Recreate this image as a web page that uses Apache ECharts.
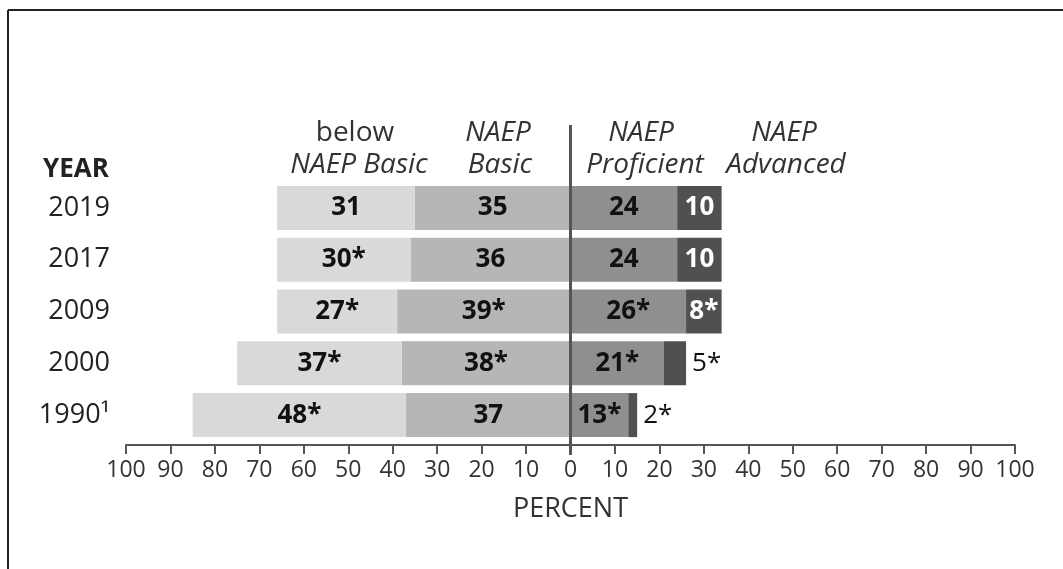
<!DOCTYPE html>
<html>
<head>
<meta charset="utf-8">
<script src="https://cdn.jsdelivr.net/npm/echarts@6/dist/echarts.min.js"></script>
<style>
html,body{margin:0;padding:0;background:#fff;}
#main{width:1063px;height:569px;}
</style>
</head>
<body>
<div id="main"></div>
<script>
// ---- data ----
var years = ['2019', '2017', '2009', '2000', '1990¹'];
var belowBasic = [31, 30, 27, 37, 48];
var belowBasicSig = ['', '*', '*', '*', '*'];
var naepBasic = [35, 36, 39, 38, 37];
var naepBasicSig = ['', '', '*', '*', ''];
var proficient = [24, 24, 26, 21, 13];
var proficientSig = ['', '', '*', '*', '*'];
var advanced = [10, 10, 8, 5, 2];
var advancedSig = ['', '', '*', '*', '*'];

var FONT = '"Open Sans", "Noto Sans", sans-serif';
var chart = echarts.init(document.getElementById('main'), null, {renderer: 'canvas'});

function neg(arr) { return arr.map(function (v) { return -v; }); }
function fmt(sig) {
  return function (p) { return Math.abs(p.value) + sig[p.dataIndex]; };
}
var inLabel = {show: true, position: 'inside', fontFamily: FONT, fontSize: 26, fontWeight: 'bold', color: '#111'};

var advData = advanced.map(function (v, i) {
  if (v >= 8) {
    return {value: v, label: {position: 'inside', color: '#fff', fontWeight: 'bold'}};
  }
  return {value: v, label: {position: 'right', color: '#111', fontWeight: 'normal', distance: 6}};
});

var option = {
  animation: false,
  backgroundColor: '#fff',
  grid: {left: 126, width: 889, top: 182, height: 259, containLabel: false},
  xAxis: {
    type: 'value', min: -100, max: 100, interval: 10,
    offset: 4,
    splitLine: {show: false},
    axisLine: {show: true, lineStyle: {color: '#555', width: 2}},
    axisTick: {show: true, length: 9, lineStyle: {color: '#555', width: 2}},
    axisLabel: {
      fontFamily: FONT, fontSize: 23, color: '#333', margin: 14,
      formatter: function (v) { return Math.abs(v); }
    },
    name: 'PERCENT', nameLocation: 'middle', nameGap: 51,
    nameTextStyle: {fontFamily: FONT, fontSize: 27, color: '#333'}
  },
  yAxis: {
    type: 'category', data: years, inverse: true,
    axisLine: {show: false}, axisTick: {show: false},
    axisLabel: {fontFamily: FONT, fontSize: 27, color: '#222', margin: 16}
  },
  series: [
    {name: 'NAEP Basic', type: 'bar', stack: 'total', barWidth: 44,
     data: neg(naepBasic), itemStyle: {color: '#b6b6b6'},
     label: Object.assign({}, inLabel, {formatter: fmt(naepBasicSig)})},
    {name: 'below NAEP Basic', type: 'bar', stack: 'total', barWidth: 44,
     data: neg(belowBasic), itemStyle: {color: '#d9d9d9'},
     label: Object.assign({}, inLabel, {formatter: fmt(belowBasicSig)})},
    {name: 'NAEP Proficient', type: 'bar', stack: 'total', barWidth: 44,
     data: proficient, itemStyle: {color: '#8f8f8f'},
     label: Object.assign({}, inLabel, {formatter: fmt(proficientSig)})},
    {name: 'NAEP Advanced', type: 'bar', stack: 'total', barWidth: 44,
     data: advData, itemStyle: {color: '#505050'},
     label: Object.assign({}, inLabel, {formatter: fmt(advancedSig)})}
  ]
};
chart.setOption(option);

// headers, zero line, frame
var x0 = chart.convertToPixel({xAxisIndex: 0}, 0);
var hdr = {fontFamily: FONT, fontSize: 28, fill: '#333', textAlign: 'center', textVerticalAlign: 'middle'};
function txt(x, y, s, extra) {
  return {type: 'text', x: x, y: y, style: Object.assign({}, hdr, {text: s}, extra || {})};
}
chart.setOption({
  graphic: [
    {type: 'line', shape: {x1: 8, y1: 10, x2: 1063, y2: 10}, style: {stroke: '#222', lineWidth: 2}},
    {type: 'line', shape: {x1: 8, y1: 10, x2: 8, y2: 569}, style: {stroke: '#222', lineWidth: 2}},
    {type: 'line', z: 100, shape: {x1: x0, y1: 125, x2: x0, y2: 455}, style: {stroke: '#555', lineWidth: 3}},
    txt(355, 133, 'below'),
    txt(359, 165, 'NAEP Basic', {fontStyle: 'italic'}),
    txt(498, 133, 'NAEP', {fontStyle: 'italic'}),
    txt(500, 165, 'Basic', {fontStyle: 'italic'}),
    txt(641, 133, 'NAEP', {fontStyle: 'italic'}),
    txt(645, 165, 'Proficient', {fontStyle: 'italic'}),
    txt(784, 133, 'NAEP', {fontStyle: 'italic'}),
    txt(786, 165, 'Advanced', {fontStyle: 'italic'}),
    {type: 'text', x: 43, y: 170, style: {text: 'YEAR', fontFamily: FONT, fontSize: 26, fontWeight: 'bold', fill: '#222', textVerticalAlign: 'middle'}}
  ]
});
</script>
</body>
</html>
